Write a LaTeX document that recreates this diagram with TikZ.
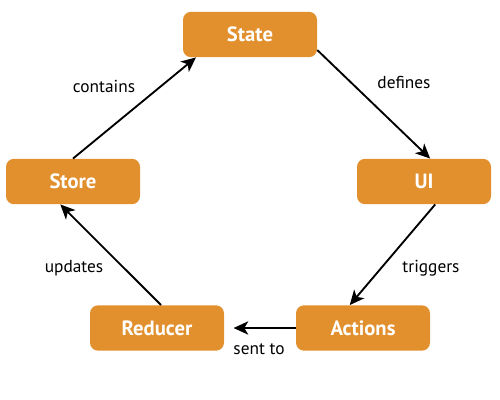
\documentclass[tikz,border=0pt]{standalone}
\usepackage{fontspec}
\setmainfont{PT Sans}
\usetikzlibrary{arrows.meta}
\definecolor{boxorange}{RGB}{226,143,46}
\begin{document}
\begin{tikzpicture}[x=0.75pt,y=-0.75pt,
  box/.style={fill=boxorange,text=white,font=\bfseries\fontsize{15.5}{18}\selectfont,minimum width=100.5pt,minimum height=34pt,rounded corners=6pt,inner sep=0pt},
  flow/.style={-{Stealth[length=11pt,width=10pt,inset=3pt]},line width=1.4pt},
  lbl/.style={font=\fontsize{13}{15}\selectfont}]

\useasboundingbox (0,0) rectangle (500,400);

\node (state) at (250,34.5)[box]{State};
\node (store) at (73,181.5)[box]{Store};
\node (ui) at (424,181.5)[box]{UI};
\node (reducer) at (157,328)[box]{Reducer};
\node (actions) at (363,328)[box]{Actions};

\draw[flow] (store.north) -- (state.-157);
\draw[flow] (state.-13) -- (ui.75);
\draw[flow] (ui.-64) -- (actions.120);
\draw[flow,shorten >=7pt] (actions.west) -- (reducer.east);
\draw[flow] (reducer.80) -- (store.-119);

\node (lcontains) at (104,86)[lbl]{contains};
\node (ldefines) at (404,82)[lbl]{defines};
\node (ltriggers) at (431,268)[lbl]{triggers};
\node (lupdates) at (74,268)[lbl]{updates};
\node (lsentto) at (259,349)[lbl]{sent to};

\end{tikzpicture}
\end{document}
